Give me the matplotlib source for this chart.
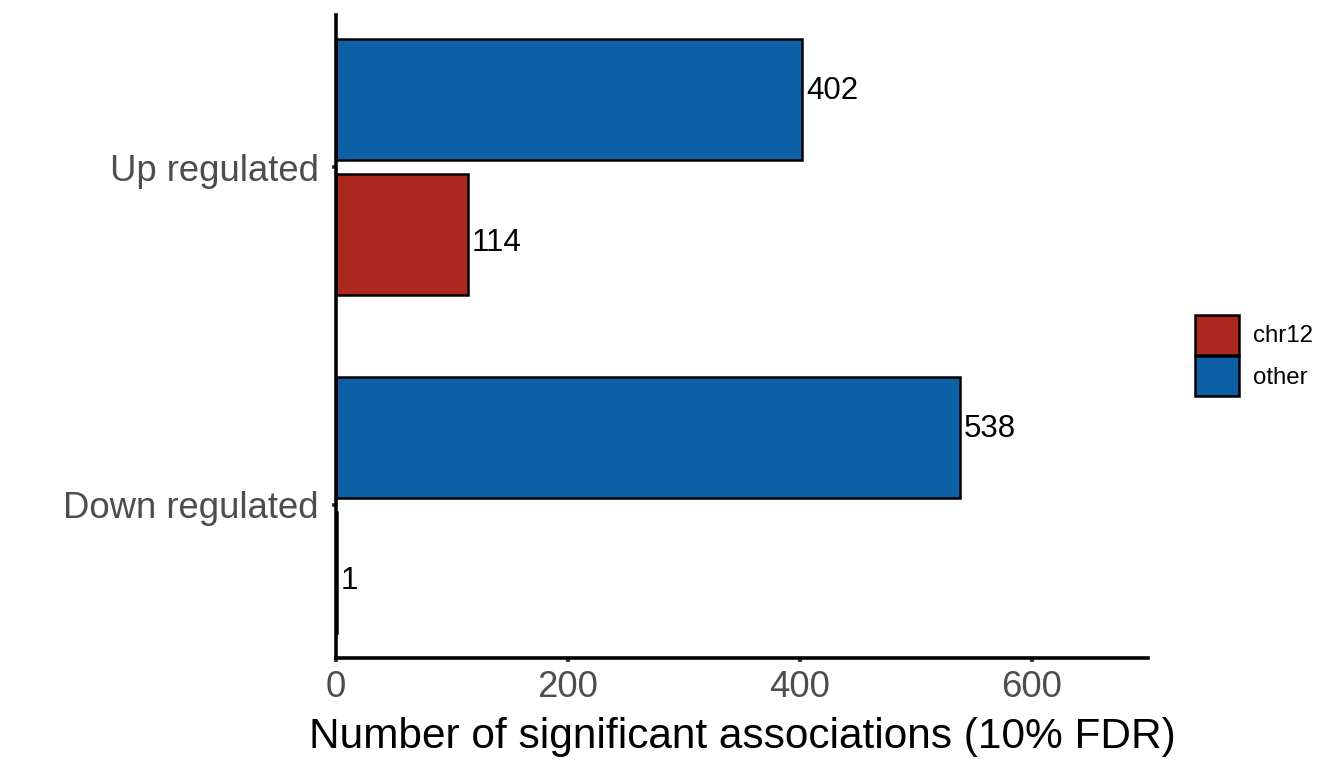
import numpy as np
import matplotlib
matplotlib.use("Agg")
import matplotlib.pyplot as plt
from matplotlib.patches import Patch

plt.rcParams['font.family'] = ['Liberation Sans', 'DejaVu Sans']

# Data
categories = ["Down regulated", "Up regulated"]
chr12_counts = [1, 114]
other_counts = [538, 402]
groups = ["chr12", "other"]

BLUE = '#0d5fa6'
RED = '#ad2920'

fig = plt.figure(figsize=(13.44, 7.68), dpi=100)
ax = fig.add_axes([0.25, 0.1432, 0.6042, 0.8373])

y = np.arange(len(categories))
h = 0.36
off = 0.2
loff = 0.225  # labels are dodged a bit wider than the bars

ax.barh(y + off, other_counts, height=h, color=BLUE, edgecolor='black', linewidth=1.8)
ax.barh(y - off, chr12_counts, height=h, color=RED, edgecolor='black', linewidth=1.8)

# value labels
for yy, v in zip(y + loff, other_counts):
    ax.text(v + 3, yy, f'{v}', ha='left', va='center', fontsize=22.5, color='black')
for yy, v in zip(y - loff, chr12_counts):
    ax.text(v + 3, yy, f'{v}', ha='left', va='center', fontsize=22.5, color='black')

ax.set_xlim(0, 700)
ax.set_ylim(-0.453, 1.45)
ax.set_xticks([0, 200, 400, 600])
ax.set_yticks(y)
ax.set_yticklabels(categories)

for s in ['top', 'right']:
    ax.spines[s].set_visible(False)
for s in ['left', 'bottom']:
    ax.spines[s].set_linewidth(2.6)
    ax.spines[s].set_color('black')

ax.tick_params(axis='both', length=3, width=2.6, color='#333333',
               labelcolor='#4d4d4d', labelsize=26.3)
ax.tick_params(axis='y', pad=9.5)
ax.tick_params(axis='x', pad=5.5)
ax.set_xlabel('Number of significant associations (10% FDR)', fontsize=30.5,
              color='black', labelpad=9)

handles = [Patch(facecolor=RED, edgecolor='black', linewidth=1.8),
           Patch(facecolor=BLUE, edgecolor='black', linewidth=1.8)]
fig.legend(handles, groups, loc='center left', bbox_to_anchor=(0.889, 0.537),
           frameon=False, fontsize=17.3, handlelength=1.82, handleheight=2.2,
           labelspacing=0.05, handletextpad=0.6, borderpad=0, borderaxespad=0)

fig.savefig('out.png', dpi=100)
